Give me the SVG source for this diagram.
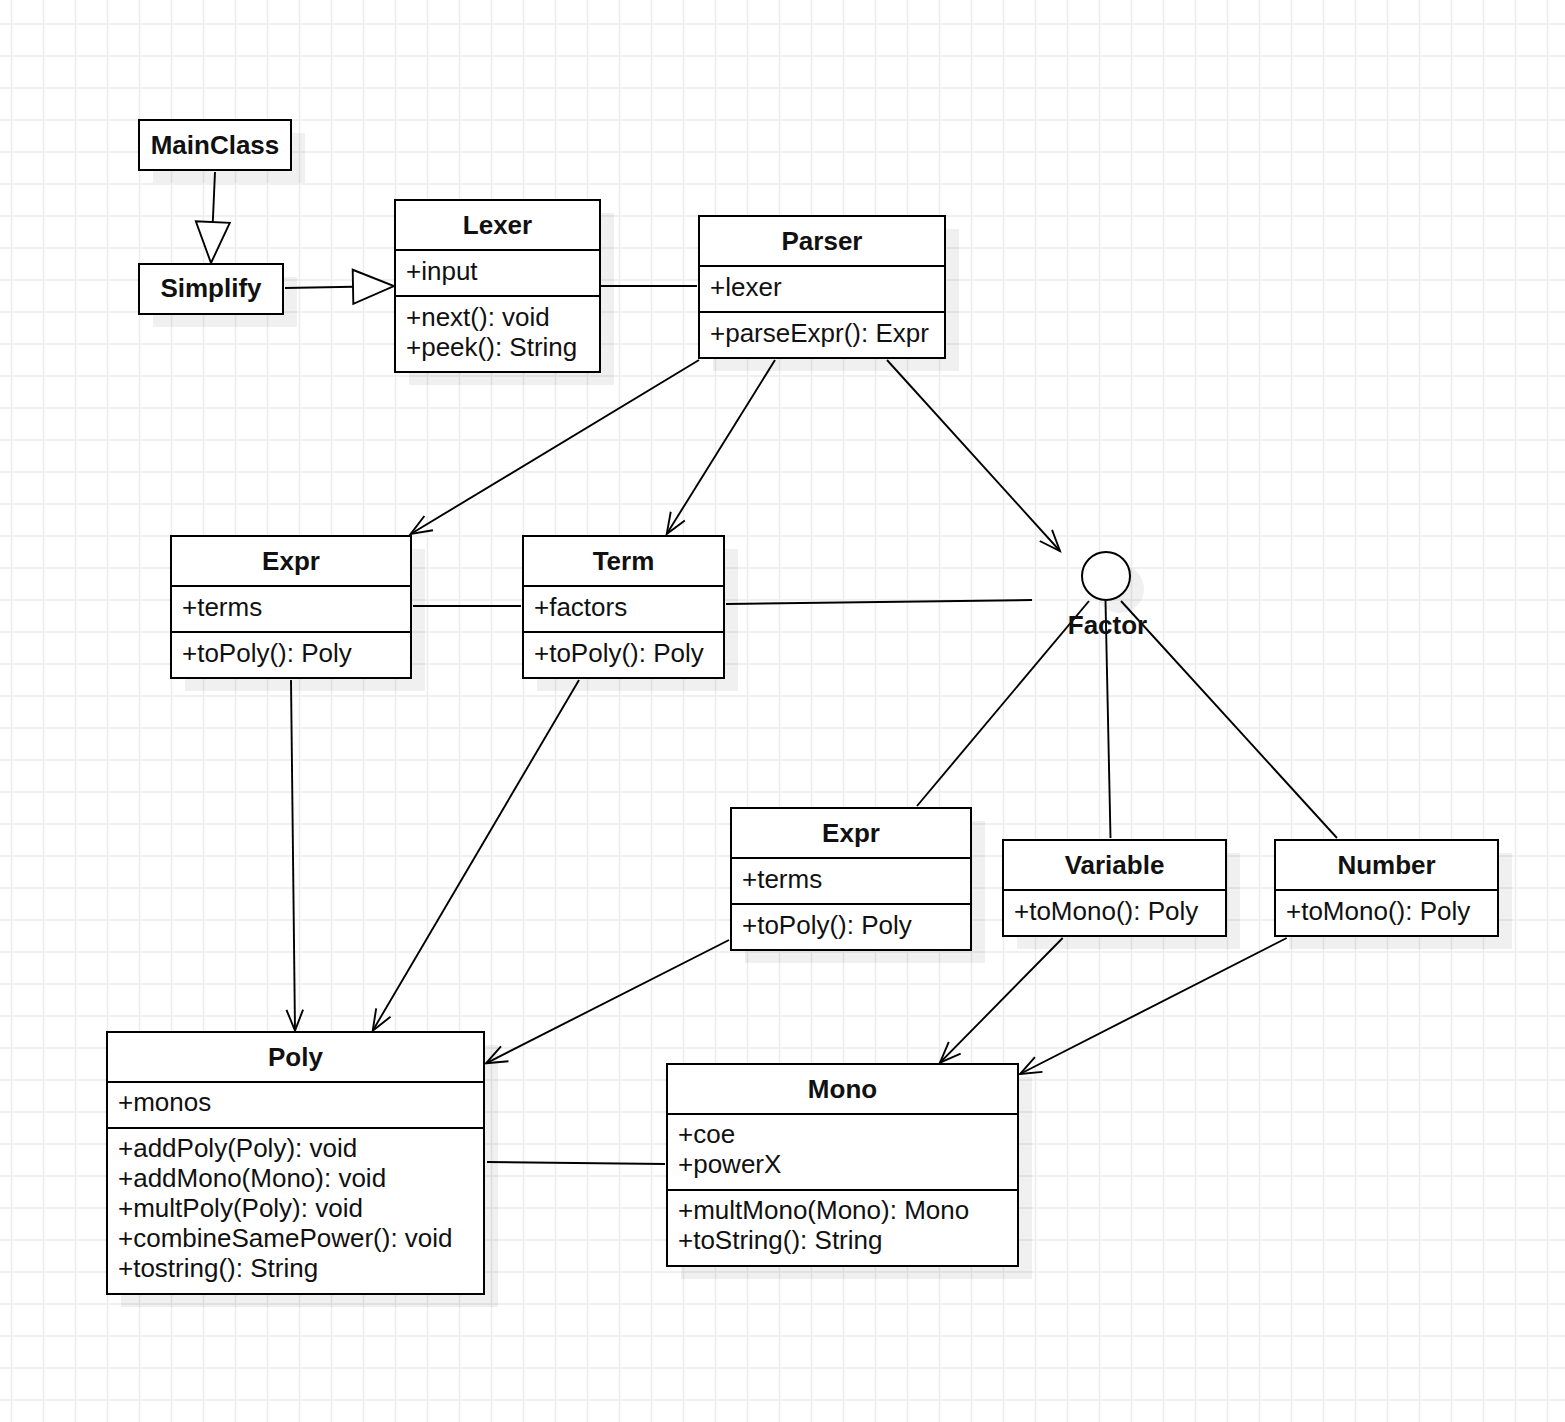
<svg xmlns="http://www.w3.org/2000/svg" width="1565" height="1422" viewBox="0 0 1565 1422">
<style>
.grid{stroke:#ececec;stroke-width:1.5;fill:none}
.box{fill:#fff;stroke:#000;stroke-width:2}
.shadow{fill:#000;opacity:0.06}
.div{stroke:#000;stroke-width:2}
.t{font-family:"Liberation Sans",Arial,Helvetica,sans-serif;font-size:26px;fill:#111}
.h{font-weight:bold;text-anchor:middle}
.ln{fill:none;stroke:#000;stroke-width:1.9}
</style>
<defs>
<marker id="open" markerUnits="userSpaceOnUse" markerWidth="30" markerHeight="30" viewBox="-25 -15 30 30" refX="0" refY="0" orient="auto" overflow="visible">
<path d="M-21,-8.3 L0,0 L-21,8.3" fill="none" stroke="#000" stroke-width="1.9"/>
</marker>
<marker id="tri" markerUnits="userSpaceOnUse" markerWidth="50" markerHeight="40" viewBox="-45 -20 50 40" refX="0" refY="0" orient="auto" overflow="visible">
<path d="M-41,-17 L0,0 L-41,17 Z" fill="#fff" stroke="#000" stroke-width="1.9"/>
</marker>
</defs>
<rect x="0" y="0" width="1565" height="1422" fill="#fff"/>
<path class="grid" d="M11.5 0V1422M43.5 0V1422M75.5 0V1422M107.5 0V1422M139.5 0V1422M171.5 0V1422M203.5 0V1422M235.5 0V1422M267.5 0V1422M299.5 0V1422M331.5 0V1422M363.5 0V1422M395.5 0V1422M427.5 0V1422M459.5 0V1422M491.5 0V1422M523.5 0V1422M555.5 0V1422M587.5 0V1422M619.5 0V1422M651.5 0V1422M683.5 0V1422M715.5 0V1422M747.5 0V1422M779.5 0V1422M811.5 0V1422M843.5 0V1422M875.5 0V1422M907.5 0V1422M939.5 0V1422M971.5 0V1422M1003.5 0V1422M1035.5 0V1422M1067.5 0V1422M1099.5 0V1422M1131.5 0V1422M1163.5 0V1422M1195.5 0V1422M1227.5 0V1422M1259.5 0V1422M1291.5 0V1422M1323.5 0V1422M1355.5 0V1422M1387.5 0V1422M1419.5 0V1422M1451.5 0V1422M1483.5 0V1422M1515.5 0V1422M1547.5 0V1422
M0 24H1565M0 56H1565M0 88H1565M0 120H1565M0 152H1565M0 184H1565M0 216H1565M0 248H1565M0 280H1565M0 312H1565M0 344H1565M0 376H1565M0 408H1565M0 440H1565M0 472H1565M0 504H1565M0 536H1565M0 568H1565M0 600H1565M0 632H1565M0 664H1565M0 696H1565M0 728H1565M0 760H1565M0 792H1565M0 824H1565M0 856H1565M0 888H1565M0 920H1565M0 952H1565M0 984H1565M0 1016H1565M0 1048H1565M0 1080H1565M0 1112H1565M0 1144H1565M0 1176H1565M0 1208H1565M0 1240H1565M0 1272H1565M0 1304H1565M0 1336H1565M0 1368H1565M0 1400H1565"/>

<g id="shadows">
<rect class="shadow" x="153" y="133" width="152" height="50"/>
<rect class="shadow" x="153" y="277" width="144" height="50"/>
<rect class="shadow" x="409" y="213" width="205" height="172"/>
<rect class="shadow" x="713" y="229" width="246" height="142"/>
<rect class="shadow" x="185" y="549" width="240" height="142"/>
<rect class="shadow" x="537" y="549" width="201" height="142"/>
<circle class="shadow" cx="1120" cy="589" r="24"/>
<rect class="shadow" x="745" y="821" width="240" height="142"/>
<rect class="shadow" x="1017" y="853" width="223" height="96"/>
<rect class="shadow" x="1289" y="853" width="223" height="96"/>
<rect class="shadow" x="121" y="1045" width="377" height="262"/>
<rect class="shadow" x="681" y="1077" width="351" height="202"/>
</g>

<g id="connectors">
<path class="ln" d="M215 172 L211 263" marker-end="url(#tri)"/>
<path class="ln" d="M285 288 L394 286" marker-end="url(#tri)"/>
<path class="ln" d="M601 286 H697"/>
<path class="ln" d="M699 360 L410.7 534" marker-end="url(#open)"/>
<path class="ln" d="M775 360 L666.7 534" marker-end="url(#open)"/>
<path class="ln" d="M887 360 L1060 551" marker-end="url(#open)"/>
<path class="ln" d="M413 606 H521"/>
<path class="ln" d="M726 604 L1032 600"/>
<path class="ln" d="M1089 601 L917 806"/>
<path class="ln" d="M1105.5 601 L1110.5 838"/>
<path class="ln" d="M1121 601 L1337 838"/>
<path class="ln" d="M291 680 L295 1030.7" marker-end="url(#open)"/>
<path class="ln" d="M579 680 L372.7 1030.7" marker-end="url(#open)"/>
<path class="ln" d="M729 940 L486 1063.3" marker-end="url(#open)"/>
<path class="ln" d="M1062.7 938 L940 1062.7" marker-end="url(#open)"/>
<path class="ln" d="M1286.7 938 L1020 1074" marker-end="url(#open)"/>
<path class="ln" d="M487 1162 L665 1164"/>
</g>

<g id="MainClass">
<rect class="box" x="139" y="120" width="152" height="50"/>
<text class="t h" x="215" y="154">MainClass</text>
</g>

<g id="Simplify">
<rect class="box" x="139" y="264" width="144" height="50"/>
<text class="t h" x="211" y="297">Simplify</text>
</g>

<g id="Lexer">
<rect class="box" x="395" y="200" width="205" height="172"/>
<path class="div" d="M395 250H601M395 296H601"/>
<text class="t h" x="497.5" y="234">Lexer</text>
<text class="t" x="406" y="279.5">+input</text>
<text class="t" x="406" y="325.5">+next(): void</text>
<text class="t" x="406" y="355.5">+peek(): String</text>
</g>

<g id="Parser">
<rect class="box" x="699" y="216" width="246" height="142"/>
<path class="div" d="M699 266H946M699 312H946"/>
<text class="t h" x="822" y="250">Parser</text>
<text class="t" x="710" y="295.5">+lexer</text>
<text class="t" x="710" y="341.5">+parseExpr(): Expr</text>
</g>

<g id="Expr1">
<rect class="box" x="171" y="536" width="240" height="142"/>
<path class="div" d="M171 586H412M171 632H412"/>
<text class="t h" x="291" y="570">Expr</text>
<text class="t" x="182" y="615.5">+terms</text>
<text class="t" x="182" y="661.5">+toPoly(): Poly</text>
</g>

<g id="Term">
<rect class="box" x="523" y="536" width="201" height="142"/>
<path class="div" d="M523 586H725M523 632H725"/>
<text class="t h" x="623.5" y="570">Term</text>
<text class="t" x="534" y="615.5">+factors</text>
<text class="t" x="534" y="661.5">+toPoly(): Poly</text>
</g>

<g id="Factor">
<circle cx="1106" cy="576" r="24" fill="#fff" stroke="#000" stroke-width="2"/>
<text class="t h" x="1107.5" y="634">Factor</text>
</g>

<g id="Expr2">
<rect class="box" x="731" y="808" width="240" height="142"/>
<path class="div" d="M731 858H972M731 904H972"/>
<text class="t h" x="851" y="842">Expr</text>
<text class="t" x="742" y="887.5">+terms</text>
<text class="t" x="742" y="933.5">+toPoly(): Poly</text>
</g>

<g id="Variable">
<rect class="box" x="1003" y="840" width="223" height="96"/>
<path class="div" d="M1003 890H1227"/>
<text class="t h" x="1114.5" y="874">Variable</text>
<text class="t" x="1014" y="919.5">+toMono(): Poly</text>
</g>

<g id="Number">
<rect class="box" x="1275" y="840" width="223" height="96"/>
<path class="div" d="M1275 890H1499"/>
<text class="t h" x="1386.5" y="874">Number</text>
<text class="t" x="1286" y="919.5">+toMono(): Poly</text>
</g>

<g id="Poly">
<rect class="box" x="107" y="1032" width="377" height="262"/>
<path class="div" d="M107 1082H485M107 1128H485"/>
<text class="t h" x="295.5" y="1066">Poly</text>
<text class="t" x="118" y="1111">+monos</text>
<text class="t" x="118" y="1157">+addPoly(Poly): void</text>
<text class="t" x="118" y="1187">+addMono(Mono): void</text>
<text class="t" x="118" y="1217">+multPoly(Poly): void</text>
<text class="t" x="118" y="1247">+combineSamePower(): void</text>
<text class="t" x="118" y="1277">+tostring(): String</text>
</g>

<g id="Mono">
<rect class="box" x="667" y="1064" width="351" height="202"/>
<path class="div" d="M667 1114H1019M667 1190H1019"/>
<text class="t h" x="842.5" y="1098">Mono</text>
<text class="t" x="678" y="1143">+coe</text>
<text class="t" x="678" y="1173">+powerX</text>
<text class="t" x="678" y="1219">+multMono(Mono): Mono</text>
<text class="t" x="678" y="1249">+toString(): String</text>
</g>
</svg>
